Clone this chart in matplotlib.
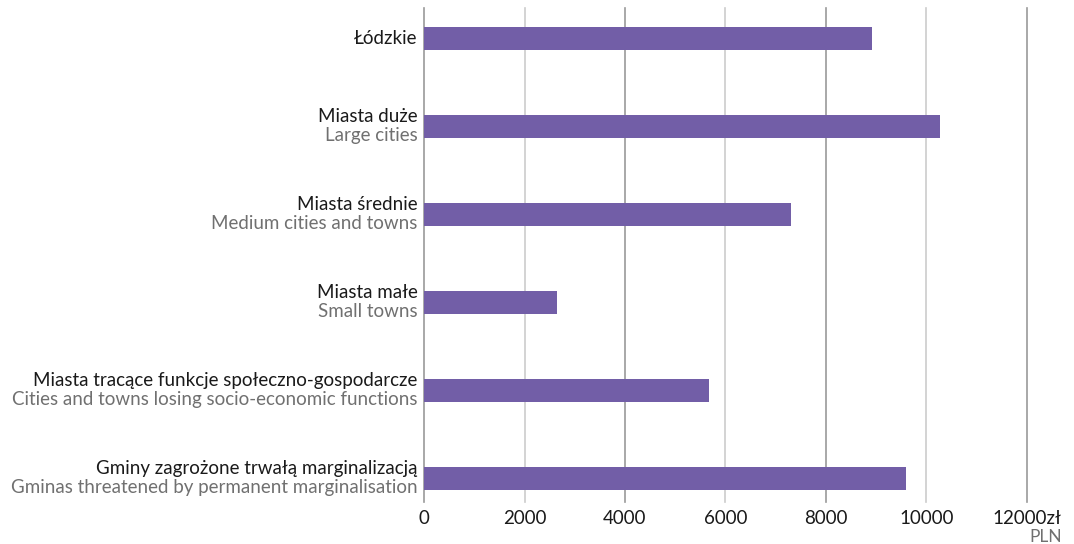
import matplotlib.pyplot as plt
from matplotlib.transforms import blended_transform_factory, offset_copy

# data
names_pl = ["Łódzkie", "Miasta duże", "Miasta średnie", "Miasta małe",
            "Miasta tracące funkcje społeczno-gospodarcze",
            "Gminy zagrożone trwałą marginalizacją"]
names_en = ["", "Large cities", "Medium cities and towns", "Small towns",
            "Cities and towns losing socio-economic functions",
            "Gminas threatened by permanent marginalisation"]
values = [8910, 10270, 7300, 2650, 5670, 9590]
ticks = [0, 2000, 4000, 6000, 8000, 10000, 12000]
tick_labels = ["0", "2000", "4000", "6000", "8000", "10000", "12000zł"]

purple = "#725ea7"
grey_txt = "#707070"
plt.rcParams['font.family'] = ['Lato', 'DejaVu Sans']

fig = plt.figure(figsize=(10.74, 5.44), dpi=100)
ax = fig.add_axes([0.3948, 0.0772, 0.5614, 0.9081])

ypos = list(range(len(values)))
ax.barh(ypos, values, height=0.26, color=purple, zorder=3)
ax.set_ylim(len(values) - 1 + 0.27, -0.35)
ax.set_xlim(0, 12000)

# vertical grid, alternating shades
for t in ticks:
    c = "#9a9a9a" if (t // 2000) % 2 == 0 else "#cccccc"
    ax.axvline(t, color=c, lw=1.2, zorder=1, clip_on=False)

for s in ax.spines.values():
    s.set_visible(False)
ax.set_yticks([])
ax.set_xticks(ticks)
ax.set_xticklabels(tick_labels, fontsize=13.5, color="#1a1a1a")
ax.tick_params(axis='x', length=0, pad=6)

# category labels
trans = blended_transform_factory(ax.transAxes, ax.transData)
for i, (pl, en) in enumerate(zip(names_pl, names_en)):
    if en:
        ax.text(-0.011, i, pl, transform=offset_copy(trans, fig=fig, y=10, units='dots'),
                ha='right', va='center', fontsize=13.5, color="#1a1a1a")
        ax.text(-0.011, i, en, transform=offset_copy(trans, fig=fig, y=-9, units='dots'),
                ha='right', va='center', fontsize=13.5, color=grey_txt)
    else:
        ax.text(-0.011, i, pl, transform=trans, ha='right', va='center',
                fontsize=13.5, color="#1a1a1a")

# unit label
ax.text(1.058, -0.054, "PLN", transform=ax.transAxes, ha='right', va='top',
        fontsize=12.5, color=grey_txt)

fig.savefig("out.png", dpi=100)
